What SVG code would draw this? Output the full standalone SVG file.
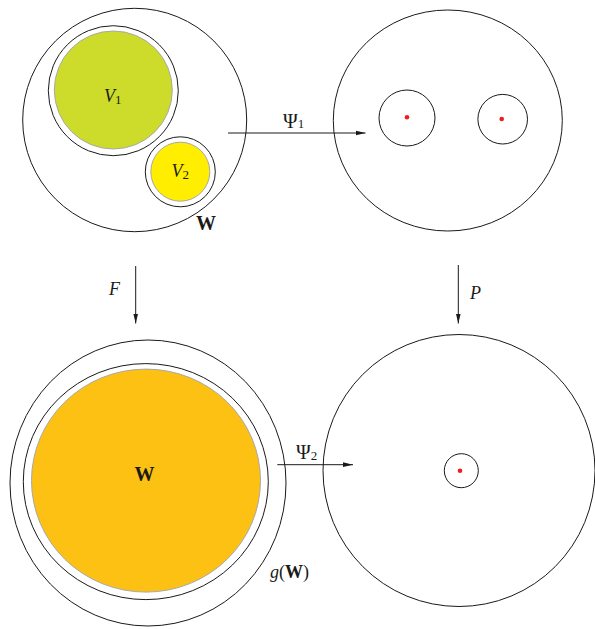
<svg xmlns="http://www.w3.org/2000/svg" width="595" height="629" viewBox="0 0 595 629">
<style>
.ln{fill:none;stroke:#1a1a1a;stroke-width:1}
.fillc{stroke:#a8a8a8;stroke-width:1}
.dot{fill:#ee1c25}
.t{font-family:"Liberation Serif","DejaVu Serif",serif;font-size:18px;fill:#1a1a1a}
.it{font-style:italic}
.bf{font-weight:bold}
.big{font-size:20px}
.sub{font-style:normal;font-size:13px}
.ar{stroke:#1a1a1a;stroke-width:1;fill:none}
</style>
<defs>
<marker id="ah" viewBox="0 0 10 6" refX="10" refY="3" markerWidth="10" markerHeight="6" markerUnits="userSpaceOnUse" orient="auto">
<path d="M0,0.6 L10,3 L0,5.4 Z" fill="#1a1a1a"/>
</marker>
</defs>
<rect width="595" height="629" fill="#fff"/>

<g id="W-top">
<ellipse class="ln" cx="134.7" cy="120" rx="112" ry="111.7"/>
<text class="t bf big" x="196" y="230">W</text>
</g>
<g id="V1">
<circle class="ln" cx="113.3" cy="90.7" r="65"/>
<circle class="fillc" cx="113.3" cy="90" r="59" fill="#cddc2a"/>
<text class="t it" x="104" y="102">V<tspan class="sub" dy="2">1</tspan></text>
</g>
<g id="V2">
<circle class="ln" cx="180.3" cy="171.8" r="35"/>
<circle class="fillc" cx="180.3" cy="171.7" r="29.5" fill="#ffee00"/>
<text class="t it" x="171.5" y="176.5">V<tspan class="sub" dy="2">2</tspan></text>
</g>

<g id="target-top">
<ellipse class="ln" cx="447.8" cy="120.5" rx="114.5" ry="110.5"/>
<circle class="ln" cx="407" cy="118" r="28"/>
<circle class="dot" cx="407" cy="117.3" r="2.3"/>
<circle class="ln" cx="502.7" cy="119.2" r="24.8"/>
<circle class="dot" cx="501.7" cy="119" r="2.3"/>
</g>

<g id="gW">
<ellipse class="ln" cx="148" cy="483" rx="138" ry="143"/>
<ellipse class="ln" cx="145.8" cy="481.6" rx="122.5" ry="118"/>
<ellipse class="fillc" cx="146" cy="480.6" rx="114.5" ry="111.5" fill="#fcc113"/>
<text class="t bf big" x="134.5" y="480.5">W</text>
<text class="t" x="270" y="578" font-size="19"><tspan class="it">g</tspan>(<tspan class="bf">W</tspan>)</text>
</g>

<g id="target-bottom">
<circle class="ln" cx="459" cy="470.5" r="136"/>
<circle class="ln" cx="461.3" cy="470.7" r="17"/>
<circle class="dot" cx="460" cy="470.7" r="2.3"/>
</g>

<g id="connectors">
<line class="ar" x1="228" y1="133" x2="365.5" y2="133" marker-end="url(#ah)"/>
<text class="t big" x="283" y="127.5">Ψ<tspan class="sub" dy="0.5">1</tspan></text>
<line class="ar" x1="135.7" y1="266" x2="135.7" y2="323.5" marker-end="url(#ah)"/>
<text class="t it" x="109" y="294.5">F</text>
<line class="ar" x1="458.3" y1="265" x2="458.3" y2="323.5" marker-end="url(#ah)"/>
<text class="t it" x="470" y="298.5">P</text>
<line class="ar" x1="277.3" y1="464.7" x2="353" y2="464.7" marker-end="url(#ah)"/>
<text class="t big" x="296" y="458.5">Ψ<tspan class="sub" dy="1.5">2</tspan></text>
</g>
</svg>
